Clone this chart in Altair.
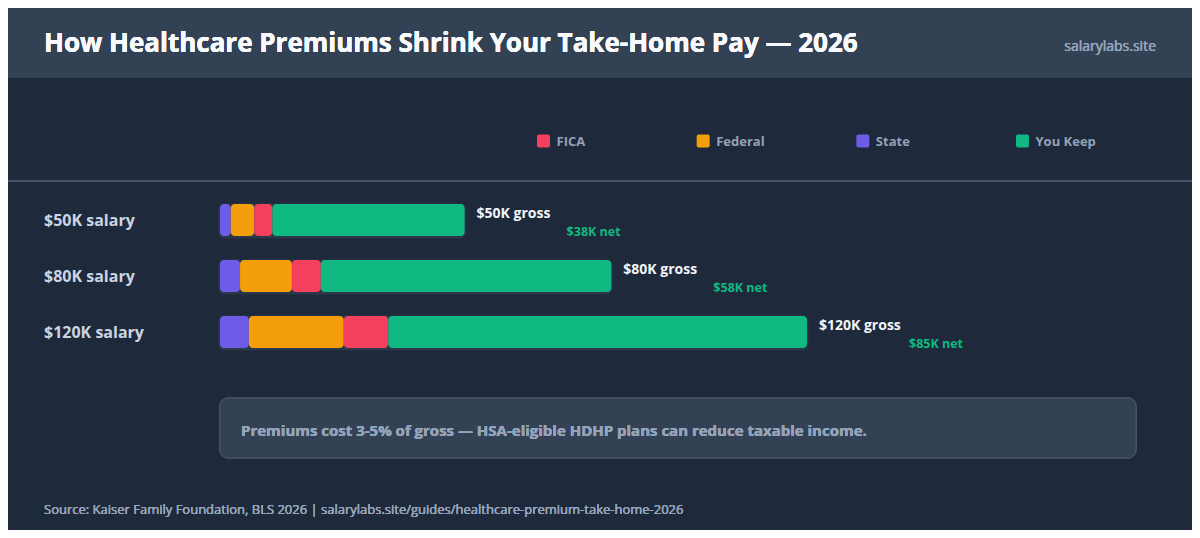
import altair as alt
import pandas as pd

# ---- data ----
salary_labels = ["$50K salary", "$80K salary", "$120K salary"]
gross_k = [50, 80, 120]
state_k = [2.2, 4.1, 5.9]
federal_k = [4.8, 10.6, 19.4]
fica_k = [3.7, 5.9, 9.1]
keep_k = [39.3, 59.4, 85.6]
gross_labels = ["$50K gross", "$80K gross", "$120K gross"]
net_labels = ["$38K net", "$58K net", "$85K net"]

legend_order = ["FICA", "Federal", "State", "You Keep"]
legend_colors = ["#f43f5e", "#f59e0b", "#6c5ce7", "#10b981"]

TITLE = "How Healthcare Premiums Shrink Your Take-Home Pay \u2014 2026"
SITE = "salarylabs.site"
NOTE = "Premiums cost 3-5% of gross \u2014 HSA-eligible HDHP plans can reduce taxable income."
SOURCE = ("Source: Kaiser Family Foundation, BLS 2026 | "
          "salarylabs.site/guides/healthcare-premium-take-home-2026")

# ---- style ----
W, H = 1184, 522
FONT = "Open Sans"
BG = "#1e293b"
PANEL = "#334155"
BORDER = "#475569"
MUTED = "#94a3b8"
ROUNDED = ("M-0.7,-1H0.7Q1,-1,1,-0.7V0.7Q1,1,0.7,1H-0.7Q-1,1,-1,0.7"
           "V-0.7Q-1,-1,-0.7,-1Z")

# stacked segments, left to right: State, Federal, FICA, You Keep
rows = []
for i, lab in enumerate(salary_labels):
    start = 0.0
    for seg, vals in [("State", state_k), ("Federal", federal_k),
                      ("FICA", fica_k), ("You Keep", keep_k)]:
        rows.append({"row": i, "seg": seg, "start": start, "end": start + vals[i]})
        start += vals[i]
seg_df = pd.DataFrame(rows)

row_df = pd.DataFrame({
    "row": range(len(salary_labels)),
    "salary": salary_labels,
    "zero": [0] * len(gross_k),
    "gross": gross_k,
    "gross_label": gross_labels,
    "net_label": net_labels,
})
legend_df = pd.DataFrame({"seg": legend_order})

x_scale = alt.Scale(domain=[0, 120], range=[212, 799], nice=False, zero=False, padding=0)
y_scale = alt.Scale(domain=[0, 2], range=[212, 324], nice=False, zero=False, padding=0)
color_scale = alt.Scale(domain=legend_order, range=legend_colors)

# ---- decorations ----
header = alt.Chart(legend_df).mark_rect(color=PANEL).encode(
    x=alt.value(0), x2=alt.value(W), y=alt.value(0), y2=alt.value(70)
)
title = alt.Chart(legend_df).mark_text(
    text=TITLE, align="left", baseline="middle", font=FONT,
    fontSize=26, fontWeight="bold", color="#f8fafc"
).encode(x=alt.value(36), y=alt.value(36))
site = alt.Chart(legend_df).mark_text(
    text=SITE, align="right", baseline="middle", font=FONT,
    fontSize=14, color=MUTED
).encode(x=alt.value(1148), y=alt.value(39))
divider = alt.Chart(legend_df).mark_rule(color=BORDER, strokeWidth=1.5).encode(
    x=alt.value(0), x2=alt.value(W), y=alt.value(173)
)
note_box = alt.Chart(legend_df).mark_rect(
    fill=PANEL, stroke=BORDER, strokeWidth=1, cornerRadius=8
).encode(x=alt.value(212), x2=alt.value(1128), y=alt.value(390), y2=alt.value(450))
note = alt.Chart(legend_df).mark_text(
    text=NOTE, align="left", baseline="middle", font=FONT,
    fontSize=15, fontWeight="bold", color=MUTED
).encode(x=alt.value(233), y=alt.value(423))
source = alt.Chart(legend_df).mark_text(
    text=SOURCE, align="left", baseline="middle", font=FONT,
    fontSize=13, color=MUTED
).encode(x=alt.value(36), y=alt.value(502))

# ---- legend (drawn by hand so it can sit across the top) ----
leg_x = alt.X("seg:N", scale=alt.Scale(domain=legend_order, range=[535.5, 1014.5],
                                        padding=0), axis=None)
leg_swatch = alt.Chart(legend_df).mark_point(
    shape=ROUNDED, filled=True, size=169, opacity=1, strokeWidth=0
).encode(
    x=leg_x, y=alt.value(133),
    color=alt.Color("seg:N", scale=color_scale, legend=None),
)
leg_text = alt.Chart(legend_df).mark_text(
    align="left", baseline="middle", dx=13, dy=1, font=FONT,
    fontSize=13, fontWeight="bold", color=MUTED
).encode(x=leg_x, y=alt.value(133), text="seg:N")

# ---- bars ----
track = alt.Chart(row_df).mark_bar(
    orient="horizontal", size=35, cornerRadius=6, color=PANEL, opacity=0.65,
    xOffset=-1.5, x2Offset=1.5, yOffset=1
).encode(
    x=alt.X("zero:Q", scale=x_scale, axis=None),
    x2="gross:Q",
    y=alt.Y("row:Q", scale=y_scale, axis=None),
)
bars = alt.Chart(seg_df).mark_bar(orient="horizontal", size=32, cornerRadius=4).encode(
    x=alt.X("start:Q", scale=x_scale, axis=None),
    x2="end:Q",
    y=alt.Y("row:Q", scale=y_scale, axis=None),
    color=alt.Color("seg:N", scale=color_scale, legend=None),
)
row_text = alt.Chart(row_df).mark_text(
    align="left", baseline="middle", dy=1, font=FONT,
    fontSize=16, fontWeight="bold", color="#cbd5e1"
).encode(
    x=alt.value(36),
    y=alt.Y("row:Q", scale=y_scale, axis=None),
    text="salary:N",
)
gross_text = alt.Chart(row_df).mark_text(
    align="left", baseline="middle", dx=12, dy=-6, font=FONT,
    fontSize=14, fontWeight="bold", color="#f1f5f9"
).encode(
    x=alt.X("gross:Q", scale=x_scale, axis=None),
    y=alt.Y("row:Q", scale=y_scale, axis=None),
    text="gross_label:N",
)
net_text = alt.Chart(row_df).mark_text(
    align="left", baseline="middle", dx=102, dy=12, font=FONT,
    fontSize=12.5, fontWeight="bold", color="#10b981"
).encode(
    x=alt.X("gross:Q", scale=x_scale, axis=None),
    y=alt.Y("row:Q", scale=y_scale, axis=None),
    text="net_label:N",
)

chart = alt.layer(
    header, title, site, leg_swatch, leg_text, divider,
    track, bars, row_text, gross_text, net_text,
    note_box, note, source,
).resolve_scale(
    x="independent", y="independent"
).properties(
    width=W, height=H, padding=0, background=BG,
    autosize=alt.AutoSizeParams(type="none"),
).configure_view(stroke=None)

chart.save("out.html", embed_options={"renderer": "svg", "actions": False})
